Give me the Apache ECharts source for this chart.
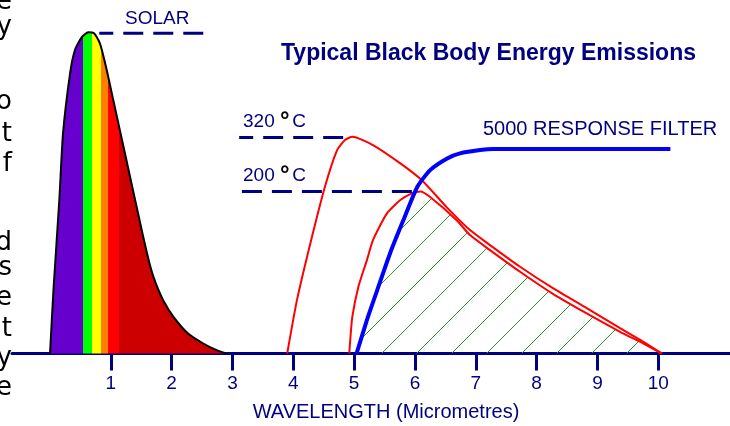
<!DOCTYPE html>
<html>
<head>
<meta charset="utf-8">
<title>Typical Black Body Energy Emissions</title>
<script src="https://cdn.jsdelivr.net/npm/echarts@6.0.0/dist/echarts.min.js"></script>
<style>
  html, body { margin: 0; padding: 0; background: #fff; }
  #main { width: 730px; height: 426px; }
</style>
</head>
<body>
<div id="main"></div>
<script>
const navy = '#000080';
const font = 'Liberation Sans';

// [wavelength in micrometres, relative energy]
const solarCurve = [
    [0.0, 0], [0.06, 20], [0.153, 46], [0.214, 66], [0.33, 84], [0.41, 91],
    [0.52, 94.8], [0.63, 96.3], [0.724, 96], [0.82, 93], [0.92, 86], [1.04, 76],
    [1.16, 66], [1.28, 56], [1.4, 46], [1.52, 36], [1.65, 26], [1.74, 21],
    [1.86, 16], [2.03, 11], [2.27, 6], [2.52, 3], [2.74, 1], [2.9, 0]
];
const curve320 = [
    [3.9, 0], [4.06, 16], [4.28, 33], [4.52, 50], [4.72, 61], [4.85, 64],
    [4.97, 65], [5.31, 62.5], [5.76, 57], [6.11, 52], [6.52, 43.9], [6.905, 37],
    [7.234, 32.5], [7.728, 26], [8.275, 19.5], [8.824, 13.6], [9.372, 7.6],
    [9.755, 3.5], [10.06, 0]
];
const curve200 = [
    [4.92, 0], [4.94, 5], [4.97, 11], [5.07, 20], [5.21, 28], [5.31, 34],
    [5.54, 42], [5.76, 46], [5.95, 48], [6.09, 48.6], [6.25, 46.9], [6.69, 39.9],
    [6.905, 35.5], [7.234, 31], [7.728, 24.5], [8.275, 17.8], [8.824, 12],
    [9.372, 6.5], [9.755, 3], [10.06, 0]
];
const filterCurve = [
    [5.04, 0], [5.21, 10], [5.38, 19], [5.59, 30], [5.81, 40], [6.04, 50],
    [6.25, 55], [6.53, 58.5], [6.74, 60], [7.07, 61], [7.29, 61.3], [8.0, 61.3],
    [10.2, 61.3]
];
// where the filter curve meets the 200 C curve
const crossPoint = [5.97, 48];

// dashed peak markers (drawn right to left)
const solarMark = [[2.52, 96], [0.81, 96]];
const mark320 = [[4.82, 64.8], [3.11, 64.8]];
const mark200 = [[5.95, 48.6], [3.13, 48.6]];

const tickValues = [1, 2, 3, 4, 5, 6, 7, 8, 9, 10];

// colour bands under the solar curve
const bandEdges = [0.538, 0.694, 0.839, 0.951, 1.138];
const bandColors = ['#6600cc', '#00ff00', '#ffff00', '#ff8000', '#ff0000', '#cc0000'];

// hatched part: right of the filter, under the 200 C curve
const hatchTop = filterCurve.filter(p => p[0] < crossPoint[0])
    .concat([crossPoint], curve200.filter(p => p[0] > crossPoint[0]));

// cut-off letters of the page text on the left edge
const marginText = [
    ['e', 2.5], ['y', 27.5], ['o', 102.5], ['t', 134], ['f', 164], ['d', 243],
    ['s', 268.5], ['e', 298.5], ['t', 329], ['y', 358], ['e', 388.5]
];

// 35px tile with one crisp "/" stroke, repeats into a hatch
function hatchPattern() {
    const c = document.createElement('canvas');
    c.width = 35;
    c.height = 35;
    const ctx = c.getContext('2d');
    ctx.fillStyle = '#289628';
    for (let i = 0; i < 35; i++) {
        ctx.fillRect(i, 34 - i, 1, 1);
    }
    return c;
}

function curve(id, data, color, width, z) {
    return {
        id: id,
        type: 'line',
        data: data,
        smooth: 0.2,
        symbol: 'none',
        z: z,
        lineStyle: { color: color, width: width }
    };
}

function dashed(data) {
    return {
        type: 'line',
        data: data,
        symbol: 'none',
        z: 6,
        lineStyle: { color: navy, width: 3, type: [20, 10] }
    };
}

function label(text, x, y, size) {
    return {
        type: 'text',
        x: x,
        y: y,
        z: 10,
        style: {
            text: text,
            fill: navy,
            fontSize: size,
            fontFamily: font,
            verticalAlign: 'middle'
        }
    };
}

function degreeLabel(num, x, y) {
    return {
        type: 'text',
        x: x,
        y: y,
        z: 10,
        style: {
            text: '{n|' + num + ' }{d|°}{s| }{n|C}',
            verticalAlign: 'middle',
            rich: {
                n: { fill: navy, color: navy, fontSize: 19, fontFamily: font },
                d: { fill: '#000', color: '#000', fontSize: 24, fontWeight: 'bold', fontFamily: font },
                s: { fontSize: 10, fontFamily: font }
            }
        }
    };
}

const solarSeries = curve('solar', solarCurve, '#000', 2, 2);
solarSeries.areaStyle = { color: '#cc0000', opacity: 1 };

const hatchSeries = curve('hatch', hatchTop, '#289628', 0, 2);
hatchSeries.lineStyle.opacity = 0;
hatchSeries.areaStyle = { color: { image: hatchPattern(), repeat: 'repeat' }, opacity: 1 };

const option = {
    animation: false,
    backgroundColor: '#fff',
    title: {
        text: 'Typical Black Body Energy Emissions',
        left: 281,
        top: 42.5,
        padding: 0,
        textStyle: { color: navy, fontSize: 23, fontWeight: 'bold', fontFamily: font }
    },
    grid: { left: 12, right: 0, top: 20, bottom: 72.5, outerBoundsMode: 'none' },
    xAxis: {
        type: 'value',
        min: -0.625,
        max: 11.18,
        name: 'WAVELENGTH (Micrometres)',
        nameLocation: 'middle',
        nameGap: 49,
        nameTextStyle: { color: navy, fontSize: 20, fontFamily: font, padding: [0, 0, 0, 30] },
        axisLine: { lineStyle: { color: navy, width: 3 } },
        axisTick: { customValues: tickValues, length: 17, lineStyle: { color: navy, width: 3 } },
        axisLabel: { customValues: tickValues, color: navy, fontSize: 19, fontFamily: font, margin: 21 },
        splitLine: { show: false }
    },
    yAxis: { type: 'value', min: 0, max: 100, show: false },
    series: [
        solarSeries,
        hatchSeries,
        curve('c320', curve320, '#ff0000', 2, 3),
        curve('c200', curve200, '#ff0000', 2, 3),
        curve('filter', filterCurve, '#0000ff', 4, 4),
        dashed(solarMark),
        dashed(mark320),
        dashed(mark200)
    ],
    graphic: [
        label('SOLAR', 125, 18.7, 19),
        degreeLabel('320', 243, 121.7),
        degreeLabel('200', 243, 175.7),
        label('5000 RESPONSE FILTER', 483, 129.7, 20)
    ].concat(marginText.map(m => ({
        type: 'text',
        x: 12,
        y: m[1],
        style: {
            text: m[0],
            fill: '#000',
            fontSize: 26,
            fontFamily: 'DejaVu Sans',
            align: 'right',
            verticalAlign: 'middle'
        }
    })))
};

const chart = echarts.init(document.getElementById('main'));
chart.setOption(option);

// hard-edged colour bands, placed on the x axis
const px0 = chart.convertToPixel({ xAxisIndex: 0 }, 0);
const px3 = chart.convertToPixel({ xAxisIndex: 0 }, 3);
const stops = [];
bandColors.forEach((c, i) => {
    const from = i === 0 ? 0 : bandEdges[i - 1] / 3;
    const to = i === bandEdges.length ? 1 : bandEdges[i] / 3;
    stops.push({ offset: from, color: c }, { offset: to, color: c });
});
chart.setOption({
    series: [{
        id: 'solar',
        areaStyle: {
            color: { type: 'linear', x: px0, y: 0, x2: px3, y2: 0, global: true, colorStops: stops },
            opacity: 1
        }
    }]
});
</script>
</body>
</html>
